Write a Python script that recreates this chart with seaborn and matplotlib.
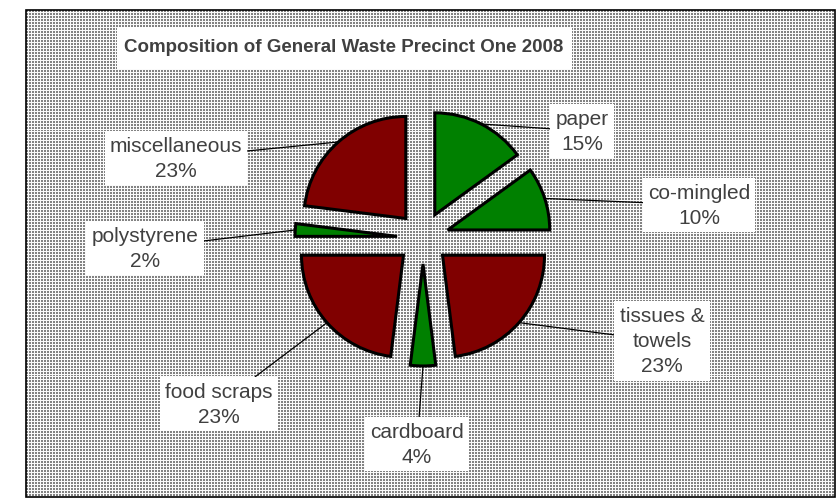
import numpy as np
import matplotlib.pyplot as plt
from matplotlib.patches import Rectangle
import seaborn as sns

# data
categories = ['paper', 'co-mingled', 'tissues &\ntowels', 'cardboard',
              'food scraps', 'polystyrene', 'miscellaneous']
shares = [15, 10, 23, 4, 23, 2, 23]
groups = ['recyclable', 'recyclable', 'waste', 'recyclable',
          'waste', 'recyclable', 'waste']
title = 'Composition of General Waste Precinct One 2008'

sns.set_style('white')
plt.rcParams['font.family'] = ['Liberation Sans', 'DejaVu Sans']

palette = {'recyclable': '#008000', 'waste': '#800000'}
text_color = '#404040'

# label box centres (pixel layout)
label_pos = [(582, 132), (699, 206), (662, 342), (417, 445),
             (219, 405), (145, 249), (176, 159)]

fig = plt.figure(figsize=(8.37, 5.02), dpi=100)
ax = fig.add_axes([0, 0, 1, 1])

# dotted backdrop
tile = np.array([[130, 130, 250], [130, 130, 250], [250, 250, 250]])
pattern = np.tile(tile, (163, 270))
ax.imshow(pattern, cmap='gray', vmin=0, vmax=255, interpolation='nearest',
          extent=(26, 835, 498, 11), aspect='auto', zorder=0)

wedges, _ = ax.pie(shares, colors=[palette[g] for g in groups],
                   startangle=-90, counterclock=True, radius=102,
                   center=(423, 239), explode=[26] * len(shares),
                   wedgeprops=dict(edgecolor='black', linewidth=2.2),
                   frame=True)

for w, name, val, pos in zip(wedges, categories, shares, label_pos):
    mid = np.deg2rad((w.theta1 + w.theta2) / 2)
    cx, cy = w.center
    edge = (cx + w.r * np.cos(mid), cy + w.r * np.sin(mid))
    ax.annotate(f'{name}\n{val}%', xy=edge, xytext=pos,
                ha='center', va='center', fontsize=15, color=text_color,
                linespacing=1.4,
                bbox=dict(boxstyle='square,pad=0.25', fc='white', ec='none'),
                arrowprops=dict(arrowstyle='-', color='black', lw=0.9,
                                shrinkA=0, shrinkB=0))

# title with its white box
ax.add_patch(Rectangle((117, 28), 455, 42, fc='white', ec='none', zorder=2))
ax.text(344, 48, title, ha='center', va='center', fontsize=13.5,
        fontweight='bold', color=text_color, zorder=3)

ax.add_patch(Rectangle((26, 11), 809, 487, fill=False, ec='black', lw=1.2))

ax.set_xlim(0, 837)
ax.set_ylim(502, 0)
ax.set_aspect('auto')
ax.axis('off')

plt.savefig('out.png', dpi=100)
